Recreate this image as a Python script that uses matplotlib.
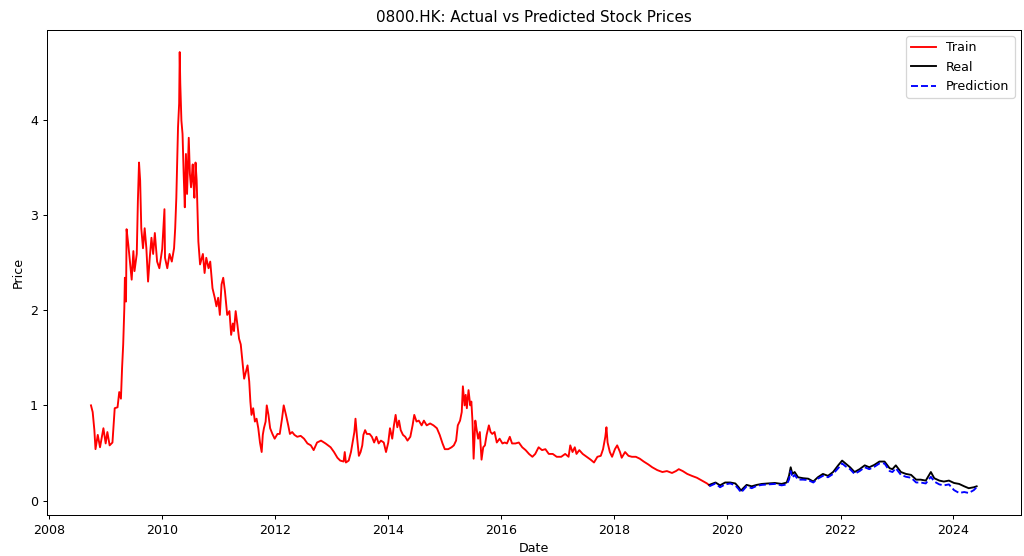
import pandas as pd
import matplotlib
matplotlib.use("Agg")
import matplotlib.pyplot as plt

# decimal years, converted to dates below
train_years = [
    2008.74, 2008.77, 2008.80, 2008.82, 2008.86, 2008.90, 2008.96, 2009.00, 2009.03, 2009.07,
    2009.12, 2009.16, 2009.21, 2009.24, 2009.27, 2009.29, 2009.31, 2009.33, 2009.34, 2009.36,
    2009.37, 2009.40, 2009.43, 2009.46, 2009.49, 2009.51, 2009.55, 2009.57, 2009.59, 2009.61,
    2009.63, 2009.66, 2009.69, 2009.72, 2009.75, 2009.78, 2009.81, 2009.84, 2009.87, 2009.91,
    2009.95, 2010.00, 2010.04, 2010.05, 2010.09, 2010.13, 2010.17, 2010.21, 2010.23, 2010.25,
    2010.28, 2010.30, 2010.31, 2010.32, 2010.34, 2010.36, 2010.38, 2010.40, 2010.42, 2010.44,
    2010.47, 2010.49, 2010.51, 2010.54, 2010.55, 2010.57, 2010.59, 2010.61, 2010.62, 2010.64,
    2010.67, 2010.72, 2010.75, 2010.78, 2010.82, 2010.85, 2010.89, 2010.93, 2010.96, 2010.99,
    2011.02, 2011.05, 2011.08, 2011.11, 2011.15, 2011.19, 2011.22, 2011.25, 2011.27, 2011.30,
    2011.33, 2011.36, 2011.39, 2011.42, 2011.45, 2011.48, 2011.51, 2011.54, 2011.56, 2011.58,
    2011.61, 2011.64, 2011.67, 2011.70, 2011.73, 2011.76, 2011.78, 2011.80, 2011.83, 2011.85,
    2011.88, 2011.91, 2011.95, 2011.99, 2012.04, 2012.08, 2012.12, 2012.15, 2012.19, 2012.23,
    2012.26, 2012.30, 2012.34, 2012.39, 2012.45, 2012.51, 2012.57, 2012.63, 2012.68, 2012.74,
    2012.81, 2012.89, 2012.98, 2013.04, 2013.10, 2013.15, 2013.21, 2013.23, 2013.25, 2013.30,
    2013.34, 2013.38, 2013.40, 2013.42, 2013.45, 2013.48, 2013.51, 2013.54, 2013.56, 2013.59,
    2013.62, 2013.67, 2013.71, 2013.75, 2013.79, 2013.83, 2013.87, 2013.92, 2013.96, 2014.00,
    2014.03, 2014.07, 2014.10, 2014.13, 2014.16, 2014.19, 2014.22, 2014.26, 2014.30, 2014.34,
    2014.39, 2014.43, 2014.46, 2014.50, 2014.54, 2014.59, 2014.63, 2014.68, 2014.74, 2014.80,
    2014.86, 2014.91, 2014.96, 2015.00, 2015.06, 2015.12, 2015.16, 2015.20, 2015.23, 2015.27,
    2015.30, 2015.32, 2015.35, 2015.37, 2015.39, 2015.42, 2015.45, 2015.47, 2015.49, 2015.51,
    2015.54, 2015.56, 2015.59, 2015.62, 2015.65, 2015.68, 2015.71, 2015.74, 2015.78, 2015.81,
    2015.84, 2015.88, 2015.92, 2015.97, 2016.02, 2016.06, 2016.10, 2016.15, 2016.19, 2016.25,
    2016.31, 2016.37, 2016.43, 2016.49, 2016.55, 2016.60, 2016.66, 2016.72, 2016.78, 2016.84,
    2016.91, 2016.98, 2017.06, 2017.13, 2017.19, 2017.22, 2017.26, 2017.30, 2017.33, 2017.38,
    2017.44, 2017.51, 2017.58, 2017.64, 2017.70, 2017.76, 2017.80, 2017.84, 2017.86, 2017.88,
    2017.92, 2017.96, 2018.01, 2018.05, 2018.10, 2018.13, 2018.19, 2018.25, 2018.31, 2018.38,
    2018.45, 2018.52, 2018.60, 2018.67, 2018.76, 2018.85, 2018.93, 2019.02, 2019.09, 2019.14,
    2019.21, 2019.29, 2019.37, 2019.46, 2019.55, 2019.64, 2019.68,
]
train_price = [
    1.00, 0.93, 0.74, 0.54, 0.69, 0.56, 0.76, 0.60, 0.72, 0.58,
    0.61, 0.97, 0.98, 1.14, 1.07, 1.39, 1.64, 2.02, 2.34, 2.09,
    2.85, 2.69, 2.51, 2.32, 2.62, 2.41, 2.59, 3.15, 3.55, 3.36,
    2.86, 2.65, 2.86, 2.65, 2.30, 2.55, 2.76, 2.59, 2.81, 2.51,
    2.44, 2.64, 3.06, 2.55, 2.44, 2.59, 2.51, 2.65, 2.86, 3.18,
    3.92, 4.17, 4.71, 4.38, 3.99, 3.85, 3.43, 3.08, 3.64, 3.22,
    3.81, 3.43, 3.29, 3.53, 3.36, 3.18, 3.55, 3.36, 3.15, 2.72,
    2.48, 2.59, 2.39, 2.55, 2.44, 2.51, 2.23, 2.13, 2.04, 2.13,
    1.95, 2.27, 2.34, 2.20, 1.95, 1.99, 1.74, 1.86, 1.78, 1.99,
    1.85, 1.70, 1.64, 1.46, 1.28, 1.35, 1.42, 1.25, 1.04, 0.90,
    0.97, 0.83, 0.86, 0.76, 0.61, 0.51, 0.69, 0.76, 0.83, 1.00,
    0.90, 0.76, 0.70, 0.65, 0.70, 0.70, 0.86, 1.00, 0.90, 0.79,
    0.70, 0.72, 0.69, 0.67, 0.68, 0.65, 0.60, 0.58, 0.53, 0.61,
    0.63, 0.60, 0.56, 0.51, 0.45, 0.42, 0.41, 0.51, 0.40, 0.42,
    0.51, 0.65, 0.72, 0.86, 0.65, 0.47, 0.51, 0.58, 0.69, 0.74,
    0.70, 0.70, 0.67, 0.61, 0.67, 0.60, 0.63, 0.61, 0.51, 0.61,
    0.76, 0.65, 0.79, 0.90, 0.77, 0.84, 0.74, 0.69, 0.67, 0.63,
    0.67, 0.79, 0.90, 0.83, 0.84, 0.79, 0.84, 0.79, 0.81, 0.79,
    0.76, 0.69, 0.60, 0.54, 0.54, 0.56, 0.58, 0.63, 0.79, 0.84,
    0.93, 1.20, 1.00, 1.11, 0.97, 1.16, 1.00, 1.04, 0.83, 0.44,
    0.84, 0.76, 0.65, 0.72, 0.43, 0.56, 0.58, 0.69, 0.79, 0.72,
    0.70, 0.72, 0.61, 0.65, 0.60, 0.61, 0.60, 0.67, 0.60, 0.60,
    0.61, 0.56, 0.53, 0.49, 0.46, 0.49, 0.56, 0.53, 0.54, 0.49,
    0.49, 0.46, 0.46, 0.49, 0.46, 0.58, 0.51, 0.56, 0.49, 0.53,
    0.49, 0.46, 0.43, 0.40, 0.46, 0.47, 0.54, 0.67, 0.77, 0.61,
    0.51, 0.46, 0.54, 0.58, 0.51, 0.45, 0.51, 0.47, 0.46, 0.46,
    0.44, 0.41, 0.38, 0.35, 0.32, 0.30, 0.31, 0.29, 0.31, 0.33,
    0.31, 0.28, 0.26, 0.24, 0.21, 0.18, 0.16,
]

test_years = [
    2019.68, 2019.79, 2019.87, 2019.96, 2020.05, 2020.14, 2020.20, 2020.24, 2020.28, 2020.34,
    2020.43, 2020.52, 2020.61, 2020.72, 2020.84, 2020.96, 2021.05, 2021.09, 2021.12, 2021.15,
    2021.19, 2021.25, 2021.34, 2021.43, 2021.52, 2021.60, 2021.69, 2021.78, 2021.87, 2021.96,
    2022.03, 2022.09, 2022.17, 2022.25, 2022.34, 2022.43, 2022.51, 2022.60, 2022.69, 2022.78,
    2022.87, 2022.92, 2022.98, 2023.07, 2023.16, 2023.25, 2023.34, 2023.42, 2023.51, 2023.60,
    2023.66, 2023.75, 2023.83, 2023.92, 2024.01, 2024.10, 2024.19, 2024.27, 2024.36, 2024.41,
]
real_price = [
    0.165, 0.19, 0.16, 0.19, 0.19, 0.18, 0.14, 0.105, 0.13, 0.165,
    0.15, 0.165, 0.175, 0.18, 0.185, 0.175, 0.19, 0.26, 0.35, 0.28,
    0.30, 0.245, 0.235, 0.23, 0.20, 0.245, 0.28, 0.26, 0.30, 0.37,
    0.42, 0.39, 0.35, 0.30, 0.33, 0.37, 0.35, 0.375, 0.41, 0.41,
    0.34, 0.33, 0.37, 0.30, 0.28, 0.27, 0.22, 0.22, 0.21, 0.30,
    0.235, 0.21, 0.20, 0.21, 0.185, 0.175, 0.15, 0.13, 0.14, 0.15,
]
pred_price = [
    0.15, 0.18, 0.14, 0.17, 0.18, 0.16, 0.12, 0.085, 0.11, 0.15,
    0.13, 0.155, 0.165, 0.17, 0.175, 0.16, 0.17, 0.22, 0.31, 0.24,
    0.27, 0.22, 0.22, 0.215, 0.19, 0.23, 0.26, 0.245, 0.28, 0.34,
    0.39, 0.36, 0.33, 0.28, 0.31, 0.35, 0.33, 0.355, 0.39, 0.39,
    0.31, 0.30, 0.34, 0.27, 0.25, 0.24, 0.19, 0.19, 0.18, 0.25,
    0.20, 0.17, 0.16, 0.17, 0.11, 0.08, 0.09, 0.08, 0.11, 0.14,
]


def to_dates(years):
    start = pd.Timestamp("2008-01-01")
    return [start + pd.Timedelta(days=(y - 2008) * 365.25) for y in years]


train_dates = to_dates(train_years)
test_dates = to_dates(test_years)

dpi = 90.5
fig = plt.figure(figsize=(1024 / dpi, 556 / dpi), dpi=dpi)
ax = fig.add_axes([0.0456, 0.0737, 0.9514, 0.8723])
ax.plot(train_dates, train_price, color="red", label="Train")
ax.plot(test_dates, real_price, color="black", label="Real")
ax.plot(test_dates, pred_price, color="blue", linestyle="--", label="Prediction")
ax.set_title("0800.HK: Actual vs Predicted Stock Prices")
ax.set_xlabel("Date")
ax.set_ylabel("Price")
ax.legend(loc="upper right")
fig.savefig("out.png", dpi=dpi)
